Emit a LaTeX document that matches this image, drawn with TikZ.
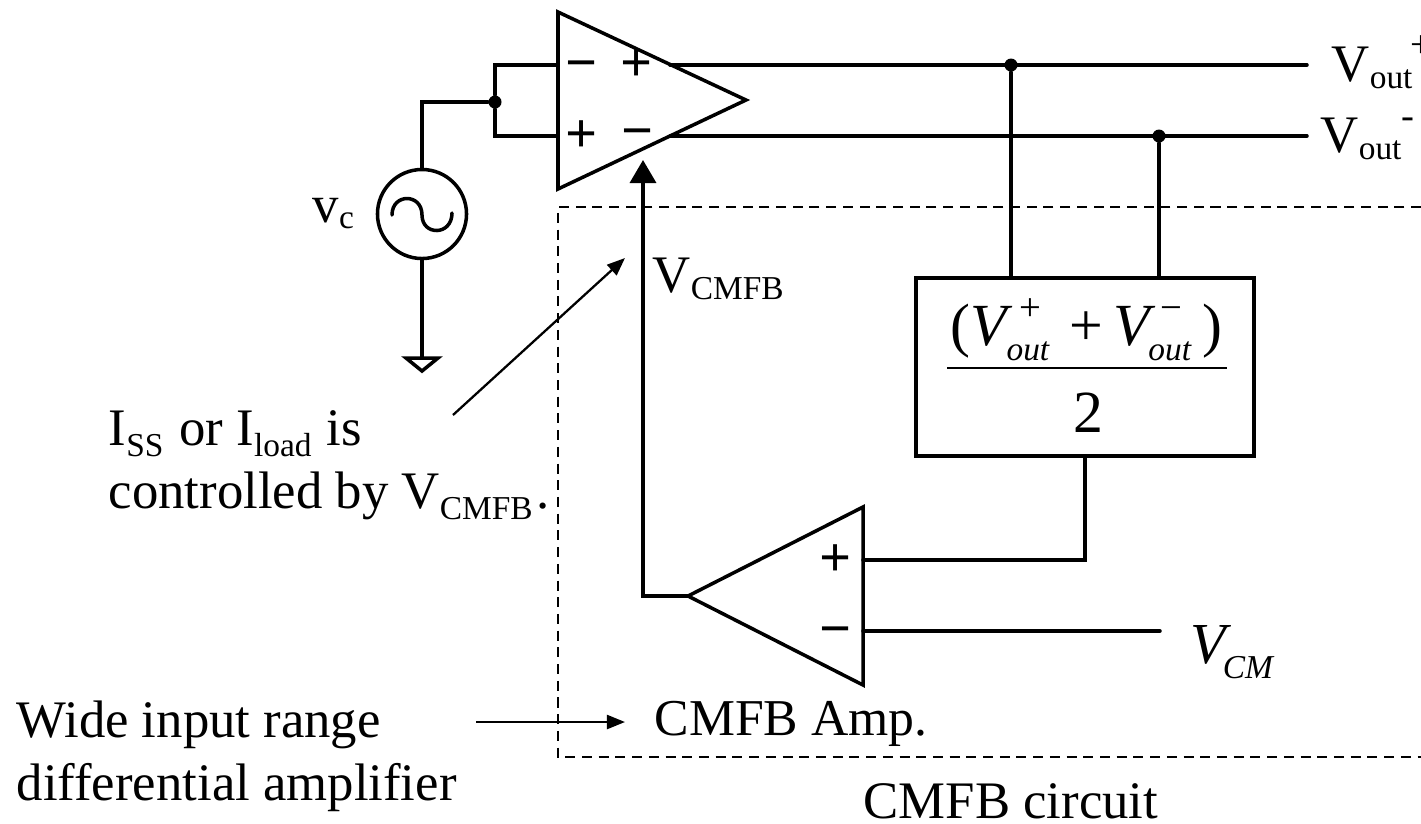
\documentclass[tikz,border=0pt]{standalone}
\usepackage{fontspec}
\setmainfont{Liberation Serif}
\usetikzlibrary{arrows.meta, positioning}
\newcommand{\bigtext}{\fontsize{15}{18}\selectfont}
\newcommand{\mathtext}{\fontsize{17}{20}\selectfont}
\newcommand{\lowtext}[2][-3.4pt]{\raisebox{#1}{\fontsize{9.5}{12}\selectfont #2}}
\newcommand{\hightext}[2][6.6pt]{\raisebox{#1}{\fontsize{11}{12}\selectfont #2}}

\tikzset{
    wire/.style={line width=1pt, line cap=round},
    note/.style={anchor=base west, inner sep=0pt, font=\bigtext},
    sign/.style={anchor=base, inner sep=0pt, font=\fontsize{16}{20}\selectfont\bfseries},
    junction/.style={circle, fill=black, inner sep=0pt, minimum size=0.13cm},
    feedarrow/.style={line width=1pt, -{Triangle[length=0.23cm,width=0.26cm]}},
    thinarrow/.style={line width=0.65pt, -{Triangle[length=0.18cm,width=0.14cm]}},
}

\begin{document}
\begin{tikzpicture}[x=0.01cm, y=-0.01cm]
    \useasboundingbox (0,0) rectangle (1421,823);
    % Main amplifier
    \coordinate (maintop) at (558,12);
    \coordinate (maintip) at (746,100);
    \coordinate (mainbot) at (558,189);
    \draw[wire, line join=miter] (maintop) -- (maintip) -- (mainbot) -- cycle;
    \node[sign] (mainm) at (582,81) {−};
    \node[sign] (mainp) at (637,81) {+};
    \node[sign] (mainq) at (582,152) {+};
    \node[sign] (mainn) at (638,149) {−};
    % Source and ground
    \node[circle, draw, line width=1pt, minimum size=0.89cm, inner sep=0pt] (source) at (422,214) {};
    \draw[wire] (392,215) .. controls (392,193) and (422,193) .. (422,215)
        .. controls (422,236) and (452,236) .. (452,213);
    \node[junction] (indot) at (495,102) {};
    \coordinate (inup) at (558,65);
    \coordinate (indown) at (558,136);
    \coordinate (gndtop) at (422,358);
    \coordinate (gndl) at (406,358);
    \coordinate (gndr) at (438,358);
    \coordinate (gndtip) at (422,371);
    \draw[wire] (source.north) |- (indot);
    \draw[wire] (inup) -| (indot);
    \draw[wire] (indown) -| (indot);
    \draw[wire] (source.south) -- (gndtop);
    \draw[wire, line join=miter] (gndl) -- (gndr) -- (gndtip) -- cycle;
    % Outputs
    \coordinate (outup) at (670,65);
    \coordinate (outdown) at (670,136);
    \coordinate (endup) at (1307,65);
    \coordinate (enddown) at (1307,136);
    \node[junction] (updot) at (1011,65) {};
    \node[junction] (downdot) at (1159,136) {};
    \draw[wire] (outup) -- (endup);
    \draw[wire] (outdown) -- (enddown);
    % Averaging block
    \node[draw, line width=1pt, minimum width=3.38cm, minimum height=1.78cm, inner sep=0pt] (avg) at (1085,367) {};
    \draw[wire] (updot) -- (updot |- avg.north);
    \draw[wire] (downdot) -- (downdot |- avg.north);
    \node[anchor=base west, inner sep=0pt, font=\mathtext] (avgtop) at (950,345)
        {(\textit{V}\hspace{-1.8pt}\rlap{\hspace{3.7pt}\hightext[7.1pt]{+}}\lowtext[-4.3pt]{\textit{out}}\hspace{5.6pt}+\hspace{2.8pt}\textit{V}\hspace{-2pt}\rlap{\hspace{3.4pt}\hightext[7.1pt]{−}}\lowtext[-4.3pt]{\textit{out}}\hspace{3pt})};
    \node[anchor=base, inner sep=0pt, font=\mathtext] (avgtwo) at (1088,432) {2};
    \coordinate (barl) at (947,368);
    \coordinate (barr) at (1227,368);
    \draw[line width=0.7pt] (barl) -- (barr);
    % CMFB amplifier
    \coordinate (cmfbtip) at (688,596);
    \coordinate (cmfbtop) at (863,507);
    \coordinate (cmfbbot) at (863,685);
    \draw[wire, line join=miter] (cmfbtip) -- (cmfbtop) -- (cmfbbot) -- cycle;
    \node[sign] (cmfbp) at (836,576) {+};
    \node[sign] (cmfbn) at (836,647) {−};
    \coordinate (plusin) at (863,560);
    \coordinate (minusin) at (863,631);
    \coordinate (vcmend) at (1160,631);
    \draw[wire] (plusin) -| (avg.south);
    \draw[wire] (minusin) -- (vcmend);
    % Feedback
    \coordinate (feedcorner) at (643,596);
    \coordinate (feedtip) at (643,160);
    \draw[feedarrow] (cmfbtip) -- (feedcorner) -- (feedtip);
    % Dashed frame
    \coordinate (framea) at (1421,207);
    \coordinate (frameb) at (558,207);
    \coordinate (framec) at (558,757);
    \coordinate (framed) at (1421,757);
    \draw[line width=0.6pt, dash pattern=on 1mm off 0.67mm] (framea) -- (frameb) -- (framec) -- (framed);
    % Notes and their arrows
    \coordinate (ctrlstart) at (453,415);
    \coordinate (ctrlend) at (625,258);
    \draw[thinarrow] (ctrlstart) -- (ctrlend);
    \coordinate (widestart) at (476,722);
    \coordinate (wideend) at (625,722);
    \draw[thinarrow] (widestart) -- (wideend);
    % Labels
    \node[note] (vc) at (312,222) {v\lowtext[-1.8pt]{c}};
    \node[note] (vcmfb) at (652,292) {V\lowtext[-2pt]{CMFB}};
    \node[note] (vcm) at (1190,663) {\fontsize{16.5}{20}\selectfont\textit{V}\hspace{-2.5pt}\lowtext[-4.3pt]{\textit{CM}}};
    \node[note] (voutp) at (1331,81) {V\lowtext[-2pt]{out}\hspace{-0.6pt}\hightext{+}};
    \node[note] (voutn) at (1320,152) {V\lowtext[-2pt]{out}\hightext{-}};
    \node[note] (lineone) at (108,445) {I\lowtext{SS}\hspace{0.8pt} or I\lowtext{load}\hspace{0.6pt} is};
    \node[note] (linetwo) at (108,508) {controlled by V\lowtext{CMFB}\hspace{1pt}.};
    \node[note] (wideone) at (16,737) {Wide input range};
    \node[note] (widetwo) at (16,800) {differential amplifier};
    \node[note, font=\fontsize{14.7}{18}\selectfont] (ampname) at (654,735) {CMFB Amp.};
    \node[note] (circname) at (863,818) {CMFB circuit};
\end{tikzpicture}
\end{document}
